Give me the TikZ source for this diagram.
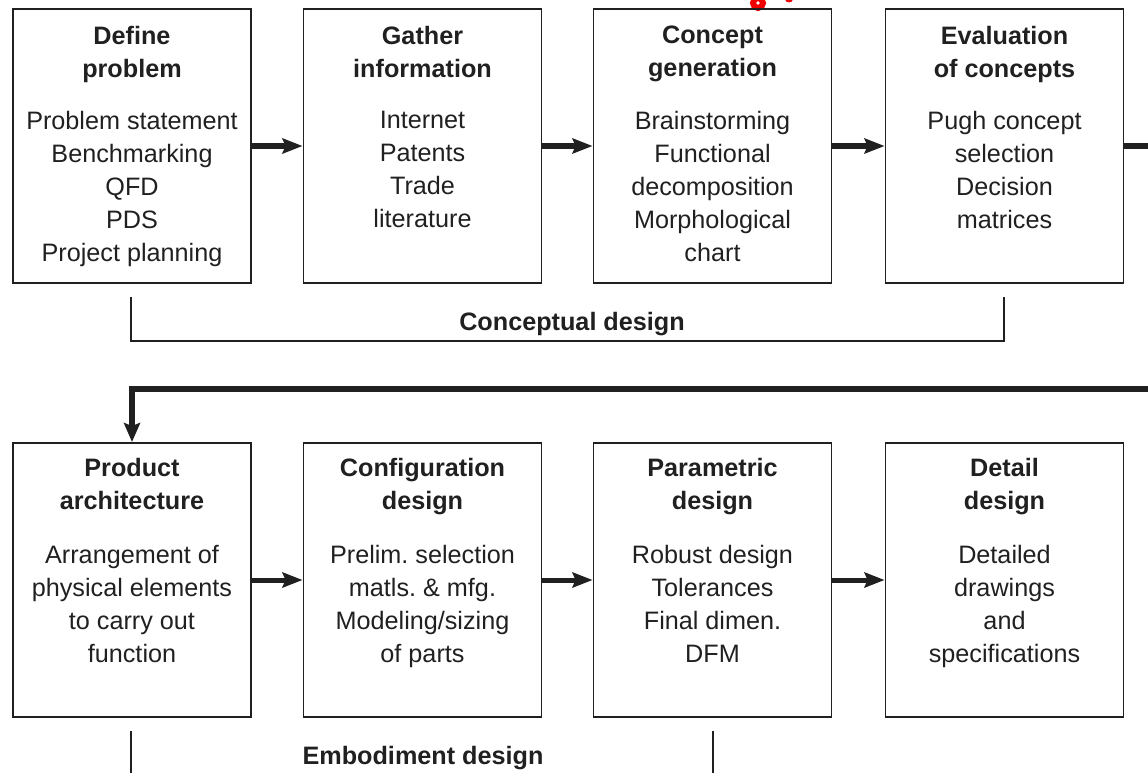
\documentclass[tikz,border=0pt]{standalone}
\usepackage{fontspec}
\setmainfont{Liberation Sans}
\usetikzlibrary{arrows.meta}
\definecolor{ink}{HTML}{202020}
\definecolor{redspot}{HTML}{F00000}
\frenchspacing
\begin{document}
\begin{tikzpicture}[x=1pt,y=-1pt,
  stagebox/.style={draw=ink, line width=1.9pt, minimum width=238pt,
    minimum height=274pt, inner sep=0pt},
  headtxt/.style={font=\fontsize{25.2}{33}\selectfont\bfseries, text=ink,
    align=center, anchor=north, inner sep=0pt},
  bodytxt/.style={font=\fontsize{25.2}{33}\selectfont, text=ink,
    align=center, anchor=north, inner sep=0pt},
  phasetxt/.style={font=\fontsize{25.2}{33}\selectfont\bfseries, text=ink,
    anchor=base, inner sep=0pt},
  flow/.style={draw=ink, line width=5pt,
    -{Stealth[length=20pt,width=15pt,inset=3pt]}},
  bigflow/.style={draw=ink, line width=6.5pt,
    -{Stealth[length=19pt,width=16pt,inset=3pt]}},
  bracket/.style={draw=ink, line width=1.9pt},
]
\useasboundingbox (0,0) rectangle (1148,773);
\clip (0,0) rectangle (1148,773);

% small red spot at the top edge
\draw[redspot, line width=6pt] (758,3) circle[radius=5pt];
\fill[redspot] (789,-1) ellipse[x radius=4pt, y radius=3.5pt];

% ---- conceptual design row ----
\node[stagebox] (b1) at (132,146) {};
\node[stagebox] (b2) at (422.5,146) {};
\node[stagebox] (b3) at (712.5,146) {};
\node[stagebox] (b4) at (1004.5,146) {};

\node[headtxt] (h1) at ([yshift=-18pt]b1.north) {Define\\problem};
\node[bodytxt] (t1) at ([yshift=-103pt]b1.north)
  {Problem statement\\Benchmarking\\QFD\\PDS\\Project planning};
\node[headtxt] (h2) at ([yshift=-18pt]b2.north) {Gather\\information};
\node[bodytxt] (t2) at ([yshift=-103pt]b2.north)
  {Internet\\Patents\\Trade\\literature};
\node[headtxt] (h3) at ([yshift=-18pt]b3.north) {Concept\\generation};
\node[bodytxt] (t3) at ([yshift=-103pt]b3.north)
  {Brainstorming\\Functional\\decomposition\\Morphological\\chart};
\node[headtxt] (h4) at ([yshift=-18pt]b4.north) {Evaluation\\of concepts};
\node[bodytxt] (t4) at ([yshift=-103pt]b4.north)
  {Pugh concept\\selection\\Decision\\matrices};

\draw[flow] (b1.east) -- (b2.west);
\draw[flow] (b2.east) -- (b3.west);
\draw[flow] (b3.east) -- (b4.west);

% bracket under the first row
\coordinate (cL) at (131,297);
\coordinate (cR) at (1004,297);
\draw[bracket] (cL) -- (cL |- 0,341) -- (cR |- 0,341) -- (cR);
\node[phasetxt] (cd) at (572,330) {Conceptual design};

% ---- return path to the second row ----
\coordinate (exitR) at (1152,146);
\draw[draw=ink, line width=5pt] (b4.east) -- (exitR);

% ---- embodiment design row ----
\node[stagebox] (b5) at (132,580) {};
\node[stagebox] (b6) at (422.5,580) {};
\node[stagebox] (b7) at (712.5,580) {};
\node[stagebox] (b8) at (1004.5,580) {};

\coordinate (backR) at (1152,389);
\coordinate (turn) at (b5.north |- backR);
\draw[bigflow] (backR) -- (turn) -- (b5.north);

\node[headtxt] (h5) at ([yshift=-16pt]b5.north) {Product\\architecture};
\node[bodytxt] (t5) at ([yshift=-103pt]b5.north)
  {Arrangement of\\physical elements\\to carry out\\function};
\node[headtxt] (h6) at ([yshift=-16pt]b6.north) {Configuration\\design};
\node[bodytxt] (t6) at ([yshift=-103pt]b6.north)
  {Prelim. selection\\matls. \& mfg.\\Modeling/sizing\\of parts};
\node[headtxt] (h7) at ([yshift=-16pt]b7.north) {Parametric\\design};
\node[bodytxt] (t7) at ([yshift=-103pt]b7.north)
  {Robust design\\Tolerances\\Final dimen.\\DFM};
\node[headtxt] (h8) at ([yshift=-16pt]b8.north) {Detail\\design};
\node[bodytxt] (t8) at ([yshift=-103pt]b8.north)
  {Detailed\\drawings\\and\\specifications};

\draw[flow] (b5.east) -- (b6.west);
\draw[flow] (b6.east) -- (b7.west);
\draw[flow] (b7.east) -- (b8.west);

% bracket under the second row, running past the lower edge
\coordinate (eL) at (131,731);
\coordinate (eR) at (713,731);
\draw[bracket] (eL) -- (eL |- 0,780);
\draw[bracket] (eR) -- (eR |- 0,780);
\node[phasetxt] (ed) at (423,764) {Embodiment design};
\end{tikzpicture}
\end{document}
